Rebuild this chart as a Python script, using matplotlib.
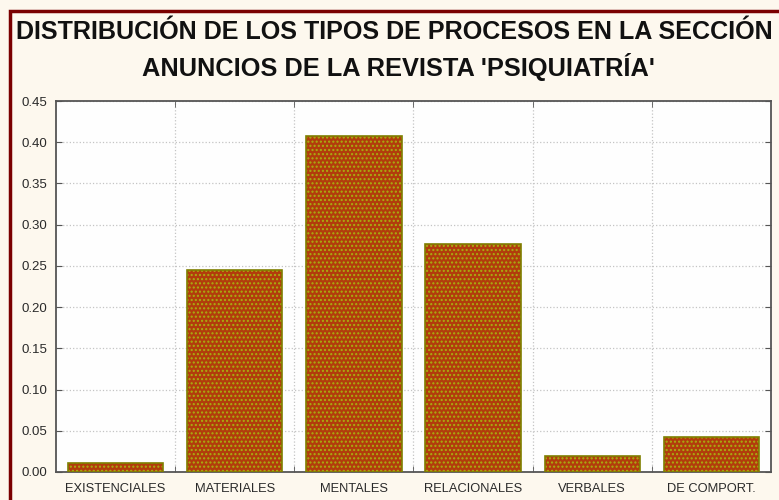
import matplotlib.pyplot as plt
from matplotlib.patches import Rectangle
import numpy as np

categories = ['EXISTENCIALES', 'MATERIALES', 'MENTALES', 'RELACIONALES', 'VERBALES', 'DE COMPORT.']
values = [0.011, 0.245, 0.408, 0.276, 0.020, 0.042]
yticks = [0.00, 0.05, 0.10, 0.15, 0.20, 0.25, 0.30, 0.35, 0.40, 0.45]

plt.rcParams['font.family'] = ['Liberation Sans', 'DejaVu Sans']
plt.rcParams['hatch.linewidth'] = 1.0

fig = plt.figure(figsize=(7.79, 5.0), dpi=100)
fig.patch.set_facecolor('#fdf8ee')

# dark red frame (right and bottom fall outside the picture)
fig.patches.append(Rectangle((10 / 779, -0.1), 1.2, 1 - 11 / 500 + 0.1,
                             transform=fig.transFigure, fill=False,
                             edgecolor='#7a0000', linewidth=2.5))

fig.text(16 / 779, 1 - 32 / 500, 'DISTRIBUCIÓN DE LOS TIPOS DE PROCESOS EN LA SECCIÓN',
         ha='left', va='center', fontsize=18.1, fontweight='bold', color='#111111')
fig.text(398 / 779, 1 - 67 / 500, "ANUNCIOS DE LA REVISTA 'PSIQUIATRÍA'",
         ha='center', va='center', fontsize=18.3, fontweight='bold', color='#111111')

ax = fig.add_axes([56 / 779, 1 - 472 / 500, 715 / 779, 371 / 500])
ax.set_facecolor('#fefefe')

x = np.arange(len(categories))
ax.bar(x, values, width=0.8, color='#b23c0c', edgecolor='#a8b010', hatch='....',
       linewidth=0, zorder=3)
ax.bar(x, values, width=0.8, fill=False, edgecolor='#7f7f00', linewidth=1.2, zorder=4)

ax.set_xlim(-0.5, len(categories) - 0.5)
ax.set_ylim(0, 0.45)
ax.set_yticks(yticks)
ax.set_yticklabels([f'{v:.2f}' for v in yticks])
ax.set_xticks(x)
ax.set_xticklabels(categories)
ax.set_xticks(x[:-1] + 0.5, minor=True)

ax.tick_params(axis='x', which='major', length=0, pad=8, labelsize=9.3, labelcolor='#2a2a2a')
ax.tick_params(axis='x', which='minor', direction='in', length=4, top=True, color='#555555')
ax.tick_params(axis='y', direction='in', length=4, right=True, labelsize=9.5,
               labelcolor='#2a2a2a', color='#555555', pad=6)

ax.grid(True, axis='y', which='major', linestyle=':', color='#c4c4c4', linewidth=0.9, zorder=0)
ax.grid(True, axis='x', which='minor', linestyle=':', color='#c4c4c4', linewidth=0.9, zorder=0)
for s in ax.spines.values():
    s.set_color('#555555')
    s.set_linewidth(1.3)

fig.savefig('out.png', dpi=100, facecolor=fig.get_facecolor())
